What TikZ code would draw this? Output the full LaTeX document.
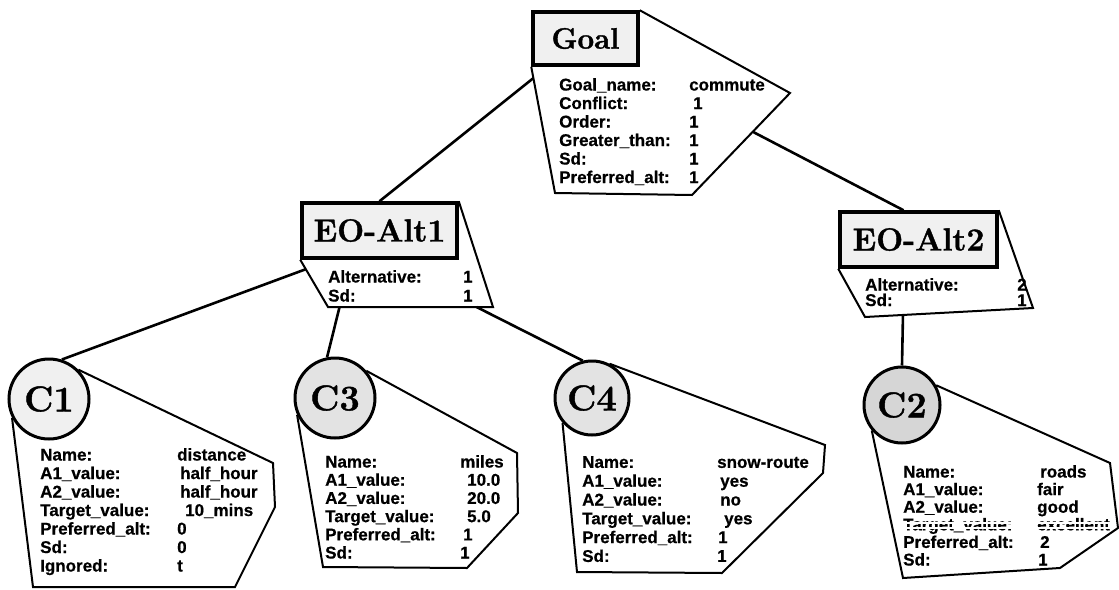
\documentclass[tikz,border=0pt]{standalone}
\usepackage{fontspec}
\newfontfamily\infofont[BoldFeatures={FakeBold=0.6}]{Liberation Sans}
\newfontfamily\hdrfont[BoldFeatures={FakeBold=1.2}]{Latin Modern Roman}
\usetikzlibrary{calc}

\newlength\kvw
% one "label  value" row; the value column starts \kvw after the label
\newcommand\kv[2]{\makebox[\kvw][l]{#1}#2}

\tikzset{
  hdr/.style={draw, line width=3.5pt, fill=gray!12, inner sep=0pt,
    font=\hdrfont\bfseries\fontsize{#1}{#1}\selectfont},
  hdr/.default=31,
  cnode/.style={circle, draw, line width=3pt, inner sep=0pt, minimum size=#1,
    font=\hdrfont\bfseries\fontsize{36}{36}\selectfont},
  panel/.style={line width=2pt, line join=miter},
  link/.style={line width=2.6pt},
  info/.style={anchor=north west, inner sep=0pt, align=left,
    font=\infofont\bfseries\fontsize{17}{#1}\selectfont},
  info/.default=18.5,
  col/.style={execute at begin node={\global\kvw=#1\relax}}
}

\begin{document}
\begin{tikzpicture}[x=1pt,y=-1pt]
\fill[white] (0,0) rectangle (1119,589);
\useasboundingbox (0,0) rectangle (1119,589);

% ---- title boxes ----
\node[hdr=29.5, minimum width=105pt, minimum height=53pt] (goal) at (585.5,38.5) {Goal};
\node[hdr=32, minimum width=155pt, minimum height=55pt] (alt1) at (379.5,230.5) {EO-Alt1};
\node[hdr=32, minimum width=157pt, minimum height=55pt] (alt2) at (918.5,239.5) {EO-Alt2};

% ---- criterion circles ----
\node[cnode=80pt, fill=gray!12] (c1) at (49,399) {C1};
\node[cnode=80pt, fill=gray!22] (c3) at (335,398) {C3};
\node[cnode=74pt, fill=gray!22] (c4) at (592,398) {C4};
\node[cnode=76pt, fill=gray!32] (c2) at (902,405) {C2};

% ---- attribute panels ----
\coordinate (g-r)  at (790,93);
\coordinate (g-br) at (692,195);
\coordinate (g-bl) at (555,193);
\draw[panel] (goal.north east) -- (g-r) -- (g-br) -- (g-bl) -- (goal.south west);

\coordinate (a1-r)  at (493,307);
\coordinate (a1-bl) at (328,307);
\draw[panel] (alt1.north east) -- (a1-r) -- (a1-bl) -- (alt1.south west);

\coordinate (a2-r)  at (1033,308);
\coordinate (a2-bl) at (865,317);
\draw[panel] (alt2.north east) -- (a2-r) -- (a2-bl) -- (alt2.south west);

\draw[panel] (c1.45) -- (273,463) -- (275,507) -- (235,587) -- (33,587) -- (c1.207);
\draw[panel] (c3.41) -- (517,453) -- (518,513) -- (467,568) -- (323,567) -- (c3.204);
\draw[panel] (c4.63) -- (825,445) -- (823,473) -- (722,573) -- (577,572) -- (c4.220);
\draw[panel] (c2.30) -- (1110,463) -- (1118,528) -- (1060,568) -- (903,578) -- (c2.220);

% ---- tree links ----
\draw[link] ($(goal.south west)!0.09!(g-bl)$) -- (alt1.north);
\draw[link] ($(g-r)!0.38!(g-br)$) -- ($(alt2.north)+(-15,0)$);
\draw[link] ($(alt1.south west)!0.2!(a1-bl)$) -- (c1.72);
\draw[link] ($(a1-bl)!0.07!(a1-r)$) -- (c3.101);
\draw[link] ($(a1-bl)!0.9!(a1-r)$) -- (c4.104);
\draw[link] ($(a2-bl)!0.226!(a2-r)$) -- (c2.north);

% ---- panel texts ----
\node[info, col=130pt] (goal-txt) at (559,78) {%
  \kv{Goal\_name:}{commute}\\
  \kv{Conflict:}{\hspace{4pt}1}\\
  \kv{Order:}{1}\\
  \kv{Greater\_than:}{1}\\
  \kv{Sd:}{1}\\
  \kv{Preferred\_alt:}{1}};

\node[info=19, col=135pt] (alt1-txt) at (328,270) {%
  \kv{Alternative:}{1}\\
  \kv{Sd:}{1}};

\node[info=15.5, col=152pt] (alt2-txt) at (865,278) {%
  \kv{Alternative:}{2}\\
  \kv{Sd:}{1}};

\node[info, col=137pt] (c1-txt) at (40,448) {%
  \kv{Name:}{distance}\\
  \kv{A1\_value:}{\hspace{3pt}half\_hour}\\
  \kv{A2\_value:}{\hspace{3pt}half\_hour}\\
  \kv{Target\_value:}{\hspace{8pt}10\_mins}\\
  \kv{Preferred\_alt:}{0}\\
  \kv{Sd:}{0}\\
  \kv{Ignored:}{t}};

\node[info=18.2, col=135pt] (c3-txt) at (325,455) {%
  \kv{Name:}{miles}\\
  \kv{A1\_value:}{\hspace{7pt}10.0}\\
  \kv{A2\_value:}{\hspace{7pt}20.0}\\
  \kv{Target\_value:}{\hspace{7pt}5.0}\\
  \kv{Preferred\_alt:}{\hspace{3pt}1}\\
  \kv{Sd:}{1}};

\node[info=18.8, col=135pt] (c4-txt) at (582,456) {%
  \kv{Name:}{snow-route}\\
  \kv{A1\_value:}{\hspace{3pt}yes}\\
  \kv{A2\_value:}{\hspace{3pt}no}\\
  \kv{Target\_value:}{\hspace{7pt}yes}\\
  \kv{Preferred\_alt:}{\hspace{1pt}1}\\
  \kv{Sd:}{1}};

\node[info=17.6, col=134pt] (c2-txt) at (903,465) {%
  \kv{Name:}{\hspace{3pt}roads}\\
  \kv{A1\_value:}{fair}\\
  \kv{A2\_value:}{good}\\
  \kv{Target\_value:}{excellent}\\
  \kv{Preferred\_alt:}{\hspace{3pt}2}\\
  \kv{Sd:}{\hspace{1pt}1}};
% the fourth row of this panel is printed broken up
\fill[white] (900,521.5) rectangle (1113,524);
\fill[white] (900,526.5) rectangle (1113,529);
\end{tikzpicture}
\end{document}
